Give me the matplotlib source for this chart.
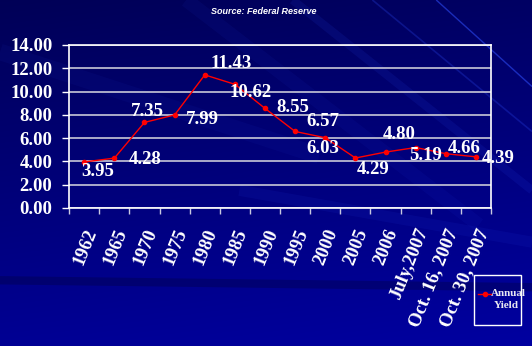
import numpy as np
import matplotlib
matplotlib.use("Agg")
import matplotlib.pyplot as plt
from matplotlib.patches import Rectangle
from matplotlib.lines import Line2D

periods = ["1962", "1965", "1970", "1975", "1980", "1985", "1990", "1995",
           "2000", "2005", "2006", "July,2007", "Oct. 16, 2007", "Oct. 30, 2007"]
annual_yield = [3.95, 4.28, 7.35, 7.99, 11.43, 10.62, 8.55, 6.57,
                6.03, 4.29, 4.80, 5.19, 4.66, 4.39]
y_ticks = [0, 2, 4, 6, 8, 10, 12, 14]

# label offsets (points) for each value label
label_offsets = [(10, -7), (22, -1), (2, 8), (20, -3), (19, 8), (11, -6),
                 (20, 1), (20, 7), (-2, -8), (13, -8), (10, 13), (7, -6),
                 (13, 4), (16, -1)]

serif = "Liberation Serif"

fig = plt.figure(figsize=(5.32, 3.46), dpi=100)

# blue gradient backdrop with a few diagonal streaks
bg = fig.add_axes([0, 0, 1, 1], zorder=-10)
rows = np.linspace(0, 1, 200)[:, None]
cols = np.linspace(0, 1, 300)[None, :]
shade = 0.34 + 0.24 * rows + 0.05 * cols
img = np.zeros((200, 300, 3))
img[..., 2] = np.clip(shade, 0, 1)
bg.imshow(img, aspect="auto", extent=[0, 1, 0, 1], origin="upper")
for x0, x1, y0, y1, a, w in [(0.55, 1.0, 1.0, 0.45, 0.10, 6), (0.70, 1.0, 1.0, 0.62, 0.25, 1.2),
                             (0.82, 1.0, 1.0, 0.75, 0.55, 1.0), (0.35, 0.9, 1.0, 0.35, 0.06, 10),
                             (0.0, 0.6, 0.85, 0.55, 0.05, 12), (0.45, 1.0, 0.45, 0.30, 0.08, 8)]:
    bg.plot([x0, x1], [y0, y1], color="#3050ff", alpha=a, lw=w, solid_capstyle="butt")
bg.plot([0, 1], [0.19, 0.17], color="#000040", alpha=0.35, lw=6)
bg.set_xlim(0, 1)
bg.set_ylim(0, 1)
bg.axis("off")

ax = fig.add_axes([0.130, 0.399, 0.793, 0.471])
ax.patch.set_alpha(0)
x = np.arange(len(periods))
ax.plot(x, annual_yield, color="#ff0000", lw=1.0, marker="o", ms=3, zorder=3)

for xi, v, (dx, dy) in zip(x, annual_yield, label_offsets):
    ax.annotate(f"{v:.2f}", (xi, v), xytext=(dx, dy), textcoords="offset points",
                ha="center", va="center", color="white", fontsize=13.5,
                fontweight="bold", family=serif, zorder=4)

ax.set_xlim(-0.5, len(periods) - 0.5)
ax.set_ylim(0, 14)
ax.set_yticks(y_ticks)
ax.set_yticklabels([f"{t:.2f}" for t in y_ticks], family=serif, fontweight="bold",
                   fontsize=13.5, color="white")
ax.set_xticks(np.arange(len(periods) + 1) - 0.5, minor=False)
ax.set_xticklabels([])
ax.set_xticks(x, minor=True)
ax.set_xticklabels(periods, minor=True, rotation=68, ha="right", va="top",
                   rotation_mode="anchor", family=serif, fontweight="bold",
                   fontsize=13.5, color="white")
ax.tick_params(axis="x", which="minor", length=0, pad=13)
ax.tick_params(axis="x", which="major", length=4, color="#c8c8e0", width=1)
ax.tick_params(axis="y", length=5, color="white", width=1, pad=7)

ax.grid(axis="y", color="#c8c8d8", lw=1.2)
for side in ["left", "top", "right", "bottom"]:
    ax.spines[side].set_color("white")
    ax.spines[side].set_linewidth(1.2)

fig.text(0.495, 0.967, "Source: Federal Reserve", ha="center", va="center",
         color="white", fontsize=6.5, fontstyle="italic", fontweight="bold",
         family="Liberation Sans")

# legend box, drawn by hand so the text can overhang the frame
fig.patches.append(Rectangle((474 / 532, 1 - 325 / 346), 47 / 532, 50 / 346,
                             transform=fig.transFigure, fill=False,
                             edgecolor="white", lw=1.0))
key_y = 1 - 294 / 346
fig.lines.append(Line2D([478 / 532, 491 / 532], [key_y, key_y],
                        transform=fig.transFigure, color="#ff0000", lw=1.0))
fig.lines.append(Line2D([484.5 / 532], [key_y], transform=fig.transFigure,
                        color="#ff0000", marker="o", ms=3, ls="none"))
fig.text(508 / 532, key_y, "Annual", ha="center", va="center", color="#e8e8f0",
         fontsize=8, fontweight="bold", family=serif)
fig.text(506 / 532, 1 - 306 / 346, "Yield", ha="center", va="center", color="#e8e8f0",
         fontsize=8, fontweight="bold", family=serif)

fig.savefig("out.png", dpi=100)
